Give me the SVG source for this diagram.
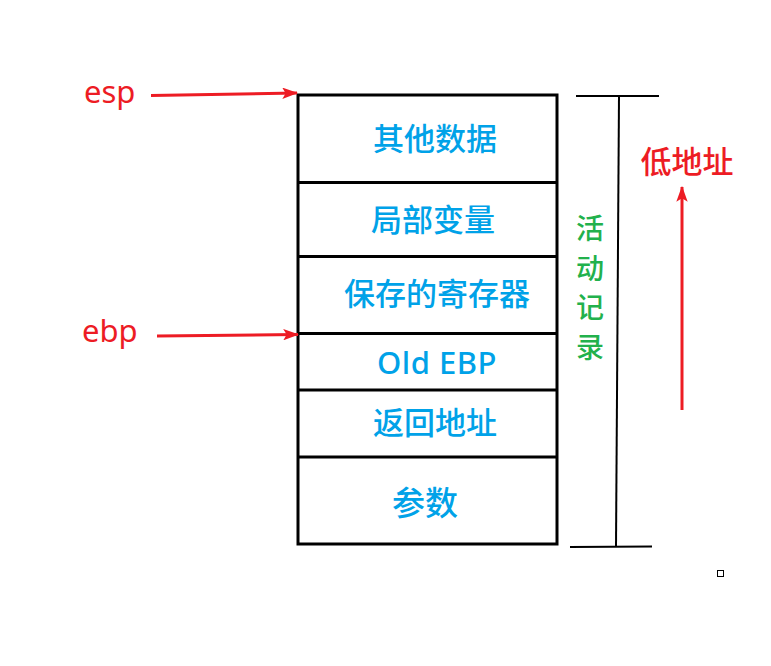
<svg xmlns="http://www.w3.org/2000/svg" width="771" height="666" viewBox="0 0 771 666">
<style>
.cell{fill:none;stroke:#000;stroke-width:3}
.div{stroke:#000;stroke-width:3}
.lbl{font-family:"Noto Sans CJK SC","Noto Sans",sans-serif;font-size:31px;font-weight:500;fill:#00A2E8;text-anchor:middle}
.red{font-family:"Noto Sans","Noto Sans CJK SC",sans-serif;font-size:31px;fill:#ED1C24}
.grn{font-family:"Noto Sans CJK SC",sans-serif;font-size:28px;font-weight:500;fill:#22B14C;text-anchor:middle}
.arr{stroke:#ED1C24;stroke-width:3;fill:none}
.br{stroke:#000;stroke-width:2;fill:none}
</style>
<defs>
<marker id="ah" viewBox="0 0 14 10" refX="13" refY="5" markerWidth="5.3" markerHeight="3.8" markerUnits="strokeWidth" orient="auto">
<path d="M0,0 L14,5 L0,10 L3,5 Z" fill="#ED1C24"/>
</marker>
</defs>
<rect width="771" height="666" fill="#fff"/>
<g id="stack">
<rect class="cell" x="298" y="95" width="259" height="449"/>
<line class="div" x1="298" y1="182.5" x2="557" y2="182.5"/>
<line class="div" x1="298" y1="256.5" x2="557" y2="256.5"/>
<line class="div" x1="298" y1="333.5" x2="557" y2="333.5"/>
<line class="div" x1="298" y1="390" x2="557" y2="390"/>
<line class="div" x1="298" y1="457" x2="557" y2="457"/>
</g>
<g id="n1"><text class="lbl" x="435" y="150">其他数据</text></g>
<g id="n2"><text class="lbl" x="433" y="231">局部变量</text></g>
<g id="n3"><text class="lbl" x="437" y="305">保存的寄存器</text></g>
<g id="n4"><text class="lbl" x="437" y="374" style="font-family:'Noto Sans',sans-serif;font-size:31px;letter-spacing:0.5px">Old EBP</text></g>
<g id="n5"><text class="lbl" x="435" y="434">返回地址</text></g>
<g id="n6"><text class="lbl" x="425" y="515" style="font-size:33px">参数</text></g>
<g id="esp"><text class="red" x="84" y="103">esp</text></g>
<g id="ebp"><text class="red" x="82" y="342">ebp</text></g>
<g id="lowaddr"><text class="red" x="687" y="173" text-anchor="middle" style="font-family:'Noto Sans CJK SC',sans-serif;font-weight:500">低地址</text></g>
<g id="record">
<text class="grn" x="590" y="239">活</text>
<text class="grn" x="590" y="279">动</text>
<text class="grn" x="590" y="318">记</text>
<text class="grn" x="590" y="358">录</text>
</g>
<g id="connectors">
<line class="arr" x1="151" y1="95.5" x2="297" y2="93" marker-end="url(#ah)"/>
<line class="arr" x1="157" y1="336" x2="298" y2="334.5" marker-end="url(#ah)"/>
<line class="arr" x1="682" y1="410" x2="682" y2="187" marker-end="url(#ah)"/>
<line class="br" x1="576" y1="96" x2="659" y2="96"/>
<line class="br" x1="619" y1="96" x2="616" y2="546"/>
<line class="br" x1="570" y1="547" x2="652" y2="546.5"/>
</g>
<rect x="717.5" y="570.5" width="6" height="6" fill="none" stroke="#000" stroke-width="1"/>
</svg>
